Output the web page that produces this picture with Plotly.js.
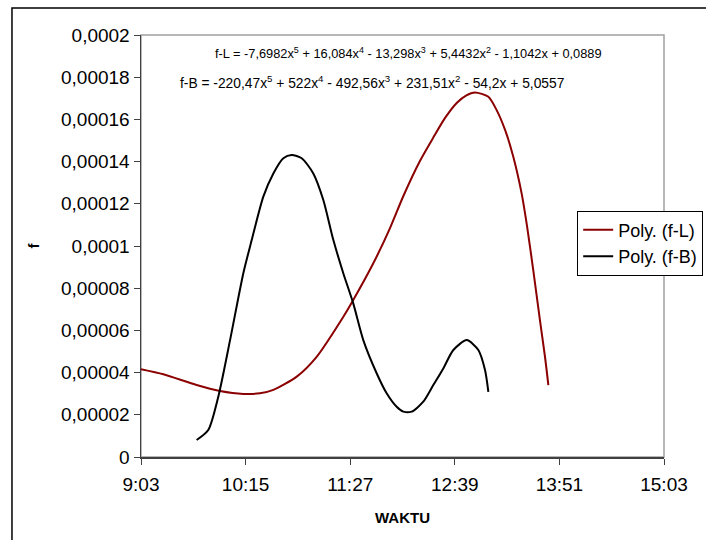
<!DOCTYPE html>
<html>
<head>
<meta charset="utf-8">
<script src="https://cdn.plot.ly/plotly-3.0.1.min.js"></script>
<style>html,body{margin:0;padding:0;background:#fff;}#chart{width:706px;height:540px;}</style>
</head>
<body>
<div id="chart"></div>
<script>
// Poly. (f-L) trendline
const fL_time = ["09:03:00","09:18:21","09:41:18","09:57:24","10:13:24","10:24:54","10:34:06","10:50:12","11:03:54","11:22:18","11:29:06","11:42:54","11:54:24","12:03:36","12:15:00","12:24:12","12:32:18","12:40:18","12:46:42","12:52:54","13:02:06","13:07:48","13:13:36","13:19:18","13:25:06","13:28:42","13:33:00","13:37:36","13:41:06","13:43:24"];
const fL_value = [4.16e-5,3.92e-5,3.41e-5,3.13e-5,2.99e-5,3.02e-5,3.18e-5,3.81e-5,4.75e-5,6.65e-5,7.44e-5,9.18e-5,1.085e-4,1.237e-4,1.403e-4,1.514e-4,1.607e-4,1.678e-4,1.713e-4,1.728e-4,1.707e-4,1.644e-4,1.55e-4,1.422e-4,1.246e-4,1.095e-4,8.86e-5,6.49e-5,4.74e-5,3.41e-5];

// Poly. (f-B) trendline
const fB_time = ["09:41:18","09:49:18","09:56:12","10:04:18","10:13:24","10:19:12","10:27:12","10:34:06","10:41:00","10:46:42","10:53:36","11:01:36","11:08:30","11:15:24","11:22:18","11:29:06","11:36:00","11:45:12","11:52:06","11:59:00","12:03:36","12:09:18","12:17:18","12:24:12","12:31:06","12:38:00","12:47:12","12:55:12","12:59:48","13:02:06"];
const fB_value = [8.06e-6,1.28e-5,2.86e-5,5.54e-5,8.7e-5,1.028e-4,1.234e-4,1.344e-4,1.416e-4,1.431e-4,1.416e-4,1.344e-4,1.218e-4,1.028e-4,8.7e-5,7.28e-5,5.54e-5,3.97e-5,3.02e-5,2.38e-5,2.15e-5,2.15e-5,2.62e-5,3.41e-5,4.2e-5,5.07e-5,5.54e-5,5.07e-5,4.12e-5,3.09e-5];

const xTickTimes = ["09:03","10:15","11:27","12:39","13:51","15:03"];
const xTickLabels = ["9:03","10:15","11:27","12:39","13:51","15:03"];
const yTickValues = [0,0.00002,0.00004,0.00006,0.00008,0.0001,0.00012,0.00014,0.00016,0.00018,0.0002];
const yTickLabels = ["0","0,00002","0,00004","0,00006","0,00008","0,0001","0,00012","0,00014","0,00016","0,00018","0,0002"];

const eqL = "f-L = -7,6982x<sup>5</sup> + 16,084x<sup>4</sup> - 13,298x<sup>3</sup> + 5,4432x<sup>2</sup> - 1,1042x + 0,0889";
const eqB = "f-B = -220,47x<sup>5</sup> + 522x<sup>4</sup> - 492,56x<sup>3</sup> + 231,51x<sup>2</sup> - 54,2x + 5,0557";

const D = "2000-01-01 ";
const toDate = a => a.map(t => D + t);

const FONT = "Liberation Sans, Arial, sans-serif";

const traces = [
  {x: toDate(fL_time), y: fL_value, type: "scatter", mode: "lines", name: "Poly. (f-L)",
   line: {color: "#8b0000", width: 2, shape: "spline", smoothing: 0.7}},
  {x: toDate(fB_time), y: fB_value, type: "scatter", mode: "lines", name: "Poly. (f-B)",
   line: {color: "#000000", width: 2, shape: "spline", smoothing: 0.7}}
];

const layout = {
  width: 706, height: 540,
  margin: {l: 141, r: 42, t: 35, b: 83, autoexpand: false},
  paper_bgcolor: "#ffffff", plot_bgcolor: "#ffffff",
  font: {family: FONT, color: "#000", size: 18},
  showlegend: true,
  legend: {x: 0.834, y: 0.584, xanchor: "left", yanchor: "top",
           bordercolor: "#000", borderwidth: 1, bgcolor: "#fff",
           font: {family: FONT, size: 18, color: "#000"},
           tracegroupgap: 0, itemwidth: 30},
  xaxis: {
    type: "date",
    range: [D + "09:03", D + "15:03"],
    tickvals: toDate(xTickTimes), ticktext: xTickLabels,
    showgrid: false, zeroline: false,
    showline: true, linecolor: "#404040", linewidth: 1.5,
    ticks: "outside", ticklen: 6, tickcolor: "#404040",
    ticklabelstandoff: 4,
    tickfont: {family: FONT, size: 19, color: "#000"},
    title: {text: "<b>WAKTU</b>", font: {family: FONT, size: 15, color: "#000"}, standoff: 18}
  },
  yaxis: {
    range: [0, 0.0002],
    tickvals: yTickValues, ticktext: yTickLabels,
    showgrid: false, zeroline: false,
    showline: true, linecolor: "#404040", linewidth: 1.5,
    ticks: "outside", ticklen: 6, tickcolor: "#404040",
    tickfont: {family: FONT, size: 19, color: "#000"},
    title: {text: "<b>f</b>", font: {family: FONT, size: 15, color: "#000"}, standoff: 18}
  },
  shapes: [
    {type: "rect", xref: "paper", yref: "paper", x0: 0, x1: 1, y0: 0, y1: 1,
     line: {color: "#a0a0a0", width: 1.5}, layer: "below"},
    {type: "rect", xref: "paper", yref: "paper", x0: -0.2467, x1: 1.2, y0: -0.3, y1: 1.064,
     line: {color: "#000", width: 1.5}, fillcolor: "rgba(0,0,0,0)", layer: "below"}
  ],
  annotations: [
    {xref: "paper", yref: "paper", x: (408 - 141) / 523, y: (457 - 53) / 422, text: eqL,
     showarrow: false, xanchor: "center", yanchor: "middle", font: {family: FONT, size: 12.8, color: "#000"}},
    {xref: "paper", yref: "paper", x: (372 - 141) / 523, y: (457 - 82) / 422, text: eqB,
     showarrow: false, xanchor: "center", yanchor: "middle", font: {family: FONT, size: 13.8, color: "#000"}}
  ]
};

Plotly.newPlot("chart", traces, layout, {displayModeBar: false, staticPlot: true});
</script>
</body>
</html>
